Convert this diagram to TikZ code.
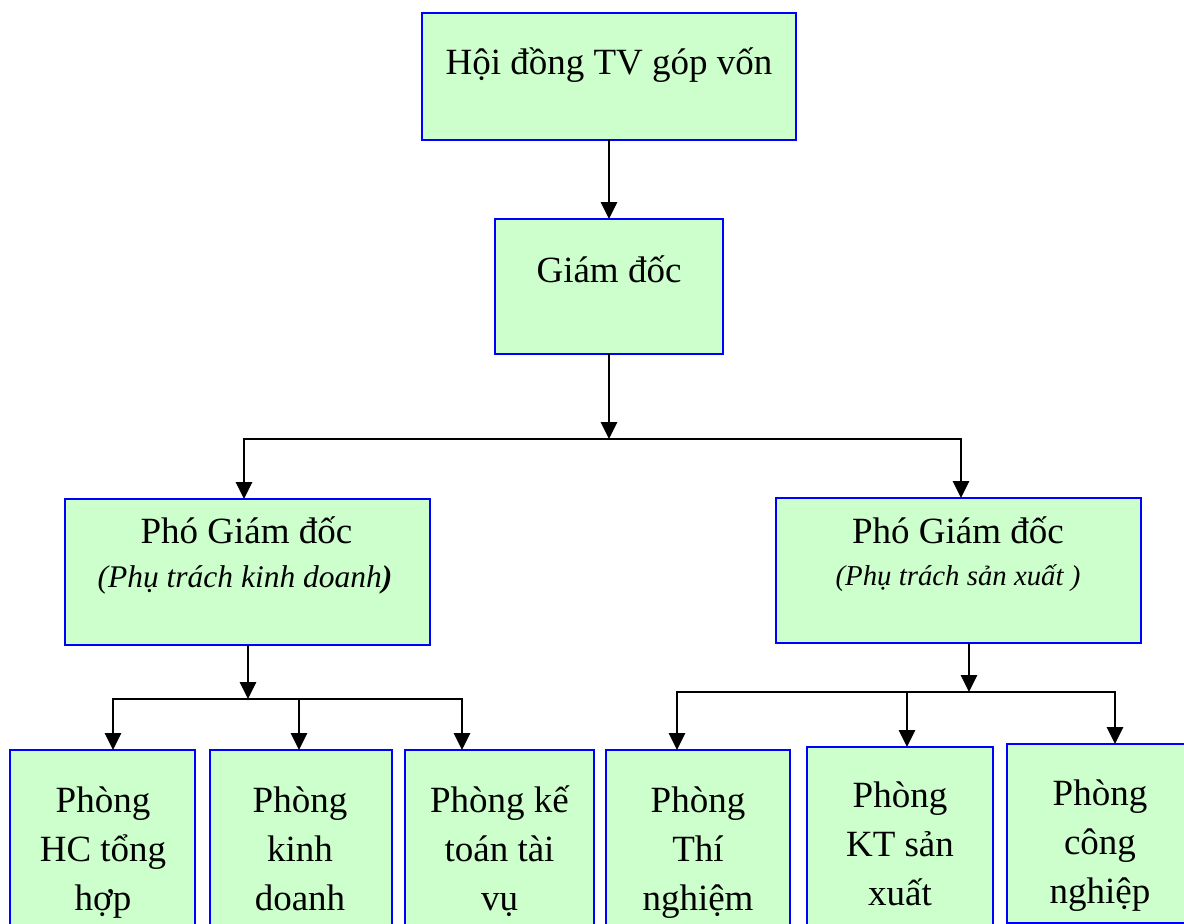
\documentclass[tikz,border=0pt]{standalone}
\usepackage{fontspec}
\setmainfont{Liberation Serif}
\usetikzlibrary{arrows.meta}
\definecolor{boxgreen}{HTML}{CCFFCC}
\definecolor{boxblue}{HTML}{0000FF}
\begin{document}
\begin{tikzpicture}[x=1pt,y=-1pt,
  box/.style={draw=boxblue, line width=2.4pt, fill=boxgreen, rectangle, inner sep=0pt, outer sep=0pt, anchor=north west},
  txt/.style={font=\fontsize{37}{49}\selectfont, align=center, inner sep=0pt, anchor=base},
  note/.style={font=\itshape\fontsize{#1}{#1}\selectfont, inner sep=0pt, anchor=base},
  wire/.style={line width=2.8pt, line cap=rect},
  arr/.style={line width=2.8pt, -{Triangle[length=17pt,width=16pt]}}]
\useasboundingbox (0,0) rectangle (1184,924);
\clip (0,0) rectangle (1184,924);

% boxes
\node[box, minimum width=374pt, minimum height=127pt] (top) at (422,13) {};
\node[box, minimum width=228pt, minimum height=135pt] (gd) at (495,219) {};
\node[box, minimum width=365pt, minimum height=146pt] (pl) at (65,499) {};
\node[box, minimum width=365pt, minimum height=145pt] (pr) at (776,498) {};
\node[box, minimum width=185pt, minimum height=200pt] (p1) at (10,750) {};
\node[box, minimum width=182pt, minimum height=200pt] (p2) at (210,750) {};
\node[box, minimum width=189pt, minimum height=200pt] (p3) at (405,750) {};
\node[box, minimum width=184pt, minimum height=200pt] (p4) at (606,750) {};
\node[box, minimum width=186pt, minimum height=200pt] (p5) at (807,747) {};
\node[box, minimum width=185pt, minimum height=179pt] (p6) at (1007,744) {};

% texts (multi-line nodes sit on the baseline of their last line)
\node[txt] (top-t) at (609,74) {Hội đồng TV góp vốn};
\node[txt] (gd-t) at (609,282) {Giám đốc};
\node[txt] (pl-t) at (246.5,543) {Phó Giám đốc};
\node[note=31.5] (pl-n) at (245,587) {(Phụ trách kinh doanh\textbf{)}};
\node[txt] (pr-t) at (958,543) {Phó Giám đốc};
\node[note=28.8] (pr-n) at (958,585) {(Phụ trách sản xuất )};
\node[txt] (p1-t) at (103,910) {Phòng\\HC tổng\\hợp};
\node[txt] (p2-t) at (300,910) {Phòng\\kinh\\doanh};
\node[txt] (p3-t) at (499.5,910) {Phòng kế\\toán tài\\vụ};
\node[txt] (p4-t) at (698,910) {Phòng\\Thí\\nghiệm};
\node[txt] (p5-t) at (900,905) {Phòng\\KT sản\\xuất};
\node[txt] (p6-t) at (1100,903) {Phòng\\công\\nghiệp};

% junction points
\coordinate (j1) at (609,439);
\coordinate (j1l) at (244,439);
\coordinate (j1r) at (961,439);
\coordinate (j2) at (248,699);
\coordinate (j2a) at (113,699);
\coordinate (j2b) at (299,699);
\coordinate (j2c) at (462,699);
\coordinate (j3) at (969,692);
\coordinate (j3a) at (677,692);
\coordinate (j3b) at (907,692);
\coordinate (j3c) at (1115,692);

% connectors
\draw[arr] (top.south) -- (gd.north);
\draw[arr] (gd.south) -- (j1);
\draw[wire] (j1l) -- (j1r);
\draw[arr] (j1l) -- (j1l |- pl.north);
\draw[arr] (j1r) -- (j1r |- pr.north);

\draw[arr] (pl.south -| j2) -- (j2);
\draw[wire] (j2a) -- (j2c);
\draw[arr] (j2a) -- (j2a |- p1.north);
\draw[arr] (j2b) -- (j2b |- p2.north);
\draw[arr] (j2c) -- (j2c |- p3.north);

\draw[arr] (pr.south -| j3) -- (j3);
\draw[wire] (j3a) -- (j3c);
\draw[arr] (j3a) -- (j3a |- p4.north);
\draw[arr] (j3b) -- (j3b |- p5.north);
\draw[arr] (j3c) -- (j3c |- p6.north);
\end{tikzpicture}
\end{document}
